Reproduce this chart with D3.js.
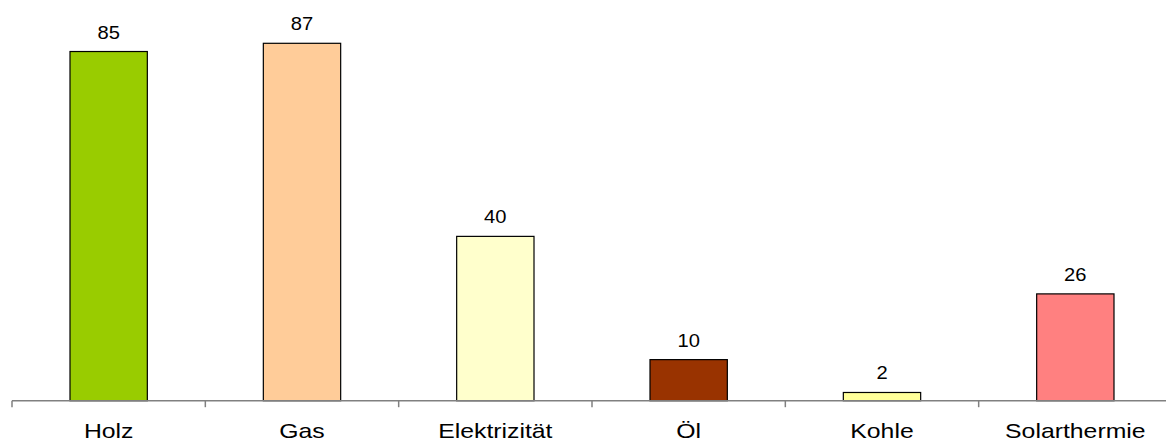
<!DOCTYPE html>
<html>
<head>
<meta charset="utf-8">
<script src="https://cdn.jsdelivr.net/npm/d3@7"></script>
<style>
  html, body { margin: 0; padding: 0; background: #ffffff; }
  svg { display: block; }
  text { font-family: Arial, "Liberation Sans", sans-serif; fill: #000; }
</style>
</head>
<body>
<svg id="chart" width="1166" height="443"></svg>
<script>
const categories = ["Holz", "Gas", "Elektrizität", "Öl", "Kohle", "Solarthermie"];
const values = [85, 87, 40, 10, 2, 26];
const colors = ["#99CC00", "#FFCC99", "#FFFFCC", "#993300", "#FFFF99", "#FF8080"];

const svg = d3.select("#chart");
const baseY = 400.7;

const x = d3.scaleBand().domain(categories).range([12, 1172]).padding(0);
const y = d3.scaleLinear().domain([0, 87]).range([baseY, 43.3]);

const bw = x.bandwidth();
const barW = bw * 0.4;

// bars
svg.append("g").selectAll("rect")
  .data(categories)
  .join("rect")
  .attr("x", (d) => x(d) + (bw - barW) / 2)
  .attr("y", (d, i) => y(values[i]))
  .attr("width", barW)
  .attr("height", (d, i) => y(0) - y(values[i]))
  .attr("fill", (d, i) => colors[i])
  .attr("stroke", "#000")
  .attr("stroke-width", 1.2);

// axis line
const axisG = svg.append("g");
axisG.append("line")
  .attr("x1", x.range()[0]).attr("x2", x.range()[1])
  .attr("y1", baseY).attr("y2", baseY)
  .attr("stroke", "#808080").attr("stroke-width", 1.5);

// tick marks at band boundaries
const tickPos = categories.map((c) => x(c)).concat([x.range()[1]]);
axisG.selectAll("line.tick")
  .data(tickPos)
  .join("line")
  .attr("class", "tick")
  .attr("x1", (d) => d).attr("x2", (d) => d)
  .attr("y1", baseY).attr("y2", baseY + 6.5)
  .attr("stroke", "#808080").attr("stroke-width", 1.5);

// category labels
svg.append("g").selectAll("text")
  .data(categories)
  .join("text")
  .attr("transform", (d) => `translate(${x(d) + bw / 2},438) scale(1.24,1)`)
  .attr("text-anchor", "middle")
  .attr("font-size", 20)
  .text((d) => d);

// value labels
svg.append("g").selectAll("text")
  .data(categories)
  .join("text")
  .attr("transform", (d, i) => `translate(${x(d) + bw / 2},${y(values[i]) - 13}) scale(1.12,1)`)
  .attr("text-anchor", "middle")
  .attr("font-size", 18)
  .text((d, i) => values[i]);
</script>
</body>
</html>
